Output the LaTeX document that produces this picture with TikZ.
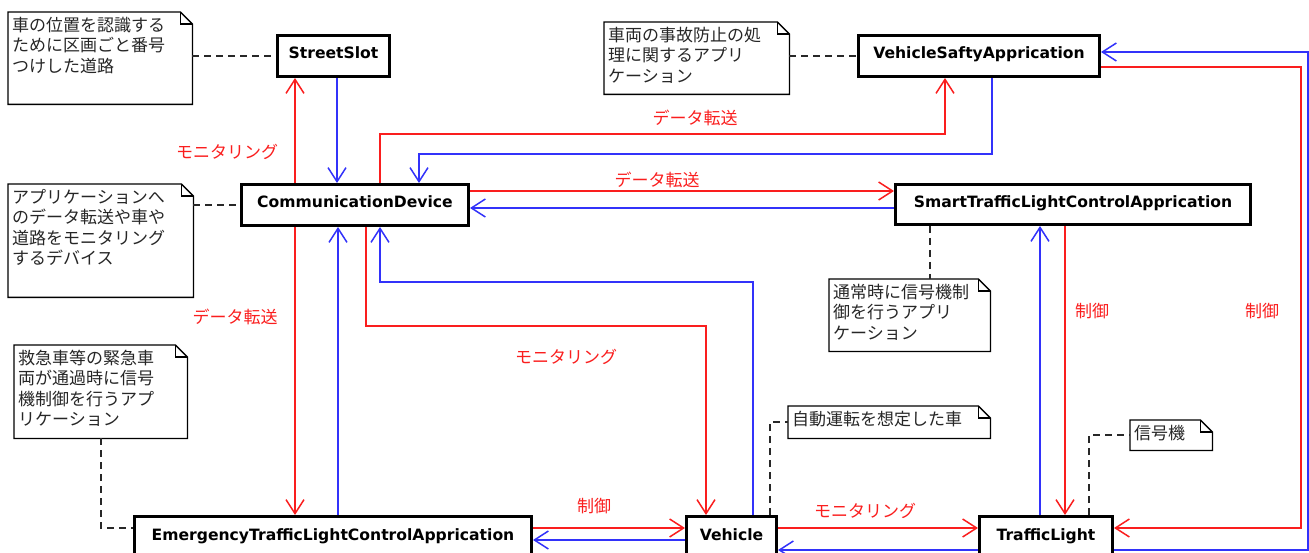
\documentclass[tikz,border=0pt]{standalone}
\usepackage{fontspec}
\newfontfamily\jp{Noto Sans CJK JP}
\newfontfamily\lblfont{DejaVu Sans}
\usetikzlibrary{arrows.meta}
\definecolor{lred}{RGB}{250,30,30}
\definecolor{lblue}{RGB}{50,50,250}
\definecolor{dashc}{RGB}{40,40,40}
\newcommand\notebody[3]{\parbox[t][#2pt][t]{#1pt}{\jp\fontsize{17}{20.5}\selectfont\leftskip=4pt\rightskip=0pt plus 1fil\parfillskip=0pt plus 1fil\rule{0pt}{19pt}#3}}
\newcommand\drawnote[1]{%
  \draw[notefr] (#1.south west) -- (#1.north west) -- ([xshift=-12pt]#1.north east) -- ([yshift=-12pt]#1.north east) -- (#1.south east) -- cycle;
  \draw[notefr] ([xshift=-12pt]#1.north east) |- ([yshift=-12pt]#1.north east);}
\tikzset{
  box/.style={draw, line width=3pt, fill=white, inner sep=0pt,
    font=\lblfont\bfseries\fontsize{15.6}{18}\selectfont, text height=12pt, text depth=6pt},
  conn/.style={line width=1.5pt, -{Straight Barb[length=14pt,width=18pt]}},
  rl/.style={conn, draw=lred},
  bl/.style={conn, draw=lblue},
  note/.style={inner sep=0pt, anchor=north west, text=black!85},
  notefr/.style={draw=black, line width=1.3pt},
  dsh/.style={draw=dashc, line width=1.5pt, dash pattern=on 7pt off 5pt},
  lab/.style={text=lred, inner sep=0pt, font=\jp\fontsize{17}{20}\selectfont}
}
\begin{document}
\begin{tikzpicture}[x=1pt,y=-1pt]
\useasboundingbox (0,0) rectangle (1309,553);
\clip (0,0) rectangle (1309,553);

% boxes
\node[box, minimum width=112pt, minimum height=41pt] (ss) at (333.5,56) {StreetSlot};
\node[box, minimum width=241pt, minimum height=41pt] (vs) at (979,56) {VehicleSaftyApprication};
\node[box, minimum width=227pt, minimum height=41pt] (cd) at (355,205) {CommunicationDevice};
\node[box, minimum width=355pt, minimum height=40pt] (st) at (1073,204.5) {SmartTrafficLightControlApprication};
\node[box, minimum width=397pt, minimum height=41pt] (em) at (333,537) {EmergencyTrafficLightControlApprication};
\node[box, minimum width=90pt, minimum height=41pt] (ve) at (731.5,537) {Vehicle};
\node[box, minimum width=133pt, minimum height=41pt] (tl) at (1046,537) {TrafficLight};

% notes
\node[note] (n1) at (8,12) {\notebody{184}{92}{車の位置を認識する\\ために区画ごと番号\\つけした道路}};
\node[note] (n2) at (604,22) {\notebody{185}{72}{車両の事故防止の処\\理に関するアプリ\\ケーション}};
\node[note] (n3) at (8,184) {\notebody{185}{113}{アプリケーションへ\\のデータ転送や車や\\道路をモニタリング\\するデバイス}};
\node[note] (n4) at (829,279) {\notebody{161}{72}{通常時に信号機制\\御を行うアプリ\\ケーション}};
\node[note] (n5) at (14,345) {\notebody{173}{93}{救急車等の緊急車\\両が通過時に信号\\機制御を行うアプ\\リケーション}};
\node[note] (n6) at (788,406) {\notebody{202}{32}{自動運転を想定した車}};
\node[note] (n7) at (1130,420) {\notebody{82}{30}{信号機}};
\drawnote{n1}
\drawnote{n2}
\drawnote{n3}
\drawnote{n4}
\drawnote{n5}
\drawnote{n6}
\drawnote{n7}

% note links
\draw[dsh] (n1.east |- ss.west) -- (ss.west);
\draw[dsh] (n2.east |- vs.west) -- (vs.west);
\draw[dsh] (n3.east |- cd.west) -- (cd.west);
\draw[dsh] (930,0 |- st.south) -- (930,0 |- n4.north);
\draw[dsh] (101,0 |- n5.south) |- (em.west |- 0,528);
\draw[dsh] (770,0 |- ve.north) |- (n6.west);
\draw[dsh] (1089,0 |- tl.north) |- (n7.west);

% connectors
\draw[rl] (295,0 |- cd.north) -- (295,0 |- ss.south);
\draw[bl] (337,0 |- ss.south) -- (337,0 |- cd.north);
\draw[rl] (380,0 |- cd.north) -- (380,134) -- (945,134) -- (945,0 |- vs.south);
\draw[bl] (992,0 |- vs.south) -- (992,154) -- (419,154) -- (419,0 |- cd.north);
\draw[rl] (cd.east |- 0,191) -- (st.west |- 0,191);
\draw[bl] (st.west |- 0,208) -- (cd.east |- 0,208);
\draw[rl] (295,0 |- cd.south) -- (295,0 |- em.north);
\draw[bl] (338,0 |- em.north) -- (338,0 |- cd.south);
\draw[rl] (366,0 |- cd.south) -- (366,326) -- (706,326) -- (706,0 |- ve.north);
\draw[bl] (753,0 |- ve.north) -- (753,282) -- (380,282) -- (380,0 |- cd.south);
\draw[rl] (em.east |- 0,528) -- (ve.west |- 0,528);
\draw[bl] (ve.west |- 0,540) -- (em.east |- 0,540);
\draw[rl] (ve.east |- 0,528) -- (tl.west |- 0,528);
\draw[bl] (tl.west |- 0,550) -- (ve.east |- 0,550);
\draw[rl] (1065,0 |- st.south) -- (1065,0 |- tl.north);
\draw[bl] (1040,0 |- tl.north) -- (1040,0 |- st.south);
\draw[rl] (vs.east |- 0,67) -- (1301,67) -- (1301,528) -- (tl.east |- 0,528);
\draw[bl] (tl.east |- 0,550) -- (1308,550) -- (1308,52) -- (vs.east |- 0,52);

% labels
\node[lab] (l1) at (227,152) {モニタリング};
\node[lab] (l2) at (695,118) {データ転送};
\node[lab] (l3) at (657,180) {データ転送};
\node[lab] (l4) at (235,317) {データ転送};
\node[lab] (l5) at (566,357) {モニタリング};
\node[lab] (l6) at (594,506) {制御};
\node[lab] (l7) at (865,511) {モニタリング};
\node[lab] (l8) at (1092,311) {制御};
\node[lab] (l9) at (1262,311) {制御};
\end{tikzpicture}
\end{document}
